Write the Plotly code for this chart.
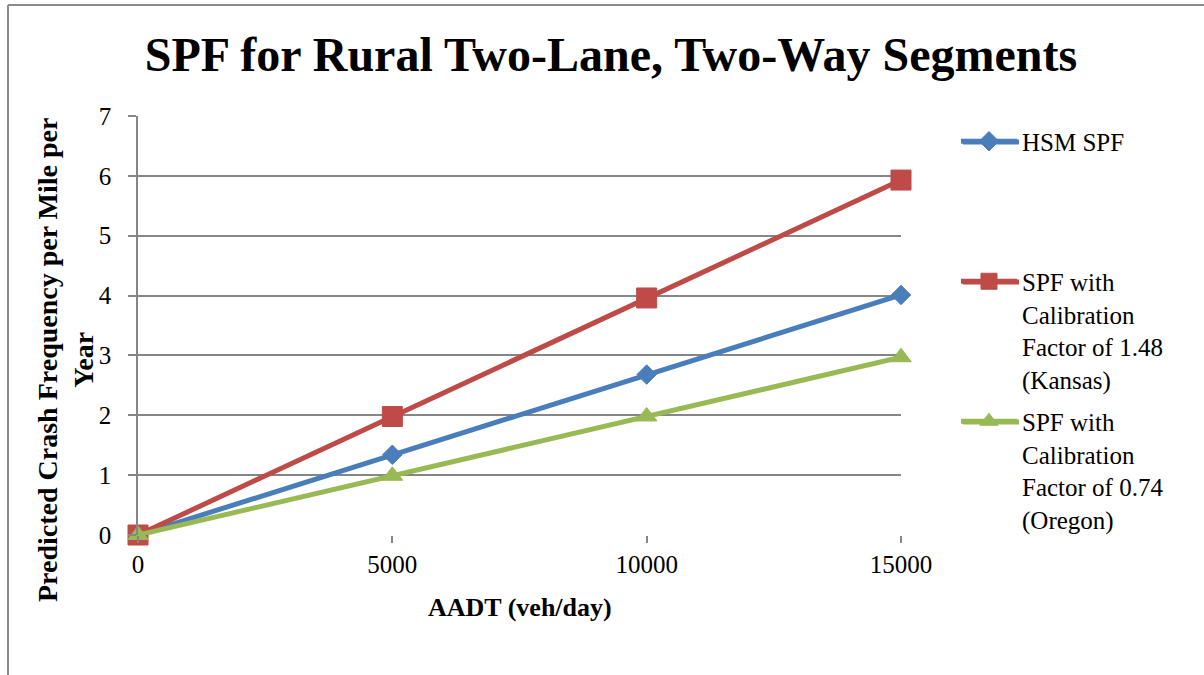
import plotly.graph_objects as go

aadt = [0, 5000, 10000, 15000]
hsm_spf = [0, 1.34, 2.68, 4.01]
kansas_spf = [0, 1.98, 3.96, 5.93]
oregon_spf = [0, 0.99, 1.98, 2.97]

names = [
    "HSM SPF",
    "SPF with<br>Calibration<br>Factor of 1.48<br>(Kansas)",
    "SPF with<br>Calibration<br>Factor of 0.74<br>(Oregon)",
]
colors = ["#4A7EBB", "#BE4B48", "#98B954"]
symbols = ["diamond", "square", "triangle-up"]
sizes = [15, 20, 18]
series = [hsm_spf, kansas_spf, oregon_spf]

FONT = "Liberation Serif"
L, R, T, B = 138, 303, 116, 140
W, H = 1204, 675
pw, ph = W - L - R, H - T - B


def px_x(x):
    return (x - L) / pw


def px_y(y):
    return (H - B - y) / ph


fig = go.Figure()
legends = ["legend", "legend2", "legend3"]
for i in range(3):
    fig.add_trace(go.Scatter(
        x=aadt, y=series[i], name=names[i], mode="lines+markers",
        line=dict(color=colors[i], width=5),
        marker=dict(symbol=symbols[i], size=sizes[i], color=colors[i],
                    line=dict(color=colors[i], width=1)),
        cliponaxis=False, legend=legends[i],
    ))

leg_common = dict(font=dict(family=FONT, size=25, color="black"),
                  bgcolor="rgba(0,0,0,0)", xanchor="left", yanchor="top",
                  valign="top", itemclick=False, itemdoubleclick=False,
                  itemwidth=56)
leg_centers = [142, 282, 422]
LEG_X = 956
fig.update_layout(
    legend=dict(x=px_x(LEG_X), y=px_y(leg_centers[0] - 23.5), **leg_common),
    legend2=dict(x=px_x(LEG_X), y=px_y(leg_centers[1] - 23.5), **leg_common),
    legend3=dict(x=px_x(LEG_X), y=px_y(leg_centers[2] - 23.5), **leg_common),
)
# Excel-style longer legend key lines
for i in range(3):
    fig.add_shape(type="line", xref="paper", yref="paper", layer="below",
                  x0=px_x(963), x1=px_x(1019),
                  y0=px_y(leg_centers[i]), y1=px_y(leg_centers[i]),
                  line=dict(color=colors[i], width=5))

fig.update_layout(
    width=W, height=H,
    margin=dict(l=L, r=R, t=T, b=B),
    paper_bgcolor="white", plot_bgcolor="white",
    font=dict(family=FONT, size=25, color="black"),
    title=dict(text="<b>SPF for Rural Two-Lane, Two-Way Segments</b>",
               font=dict(family=FONT, size=48, color="black"),
               x=611 / W, xanchor="center", xref="container",
               y=1 - 54 / H, yanchor="middle", yref="container"),
    showlegend=True,
    xaxis=dict(range=[0, 15000], tickvals=[0, 5000, 10000, 15000],
               ticktext=["0", "5000", "10000", "15000"],
               showgrid=False, zeroline=False, showline=False,
               ticks="outside", ticklen=7, tickwidth=1.5, tickcolor="#868686",
               tickfont=dict(family=FONT, size=25, color="black")),
    yaxis=dict(range=[0, 7], dtick=1, showgrid=True, gridcolor="#868686",
               gridwidth=1.5, zeroline=False, showline=True,
               linecolor="#868686", linewidth=1.5,
               ticks="outside", ticklen=8, tickwidth=1.5, tickcolor="#868686",
               ticklabelstandoff=12,
               tickfont=dict(family=FONT, size=25, color="black")),
)

fig.add_annotation(text="<b>AADT (veh/day)</b>", xref="paper", yref="paper",
                   x=0.5, y=px_y(607), xanchor="center", yanchor="middle",
                   showarrow=False, font=dict(family=FONT, size=26, color="black"))
fig.add_annotation(text="<b>Predicted Crash Frequency per Mile per<br>Year</b>",
                   xref="paper", yref="paper", x=px_x(65), y=px_y(360),
                   xanchor="center", yanchor="middle", textangle=-90,
                   showarrow=False, align="center",
                   font=dict(family=FONT, size=28, color="black"))

# chart frame
fig.add_shape(type="line", xref="paper", yref="paper",
              x0=px_x(8), x1=px_x(W + 5), y0=px_y(5), y1=px_y(5),
              line=dict(color="#8C8C8C", width=2))
fig.add_shape(type="line", xref="paper", yref="paper",
              x0=px_x(8), x1=px_x(8), y0=px_y(5), y1=px_y(H + 5),
              line=dict(color="#8C8C8C", width=2))

fig.write_html("out.html", config={"displayModeBar": False},
               post_script="document.body.style.margin='0';document.body.style.padding='0';")
